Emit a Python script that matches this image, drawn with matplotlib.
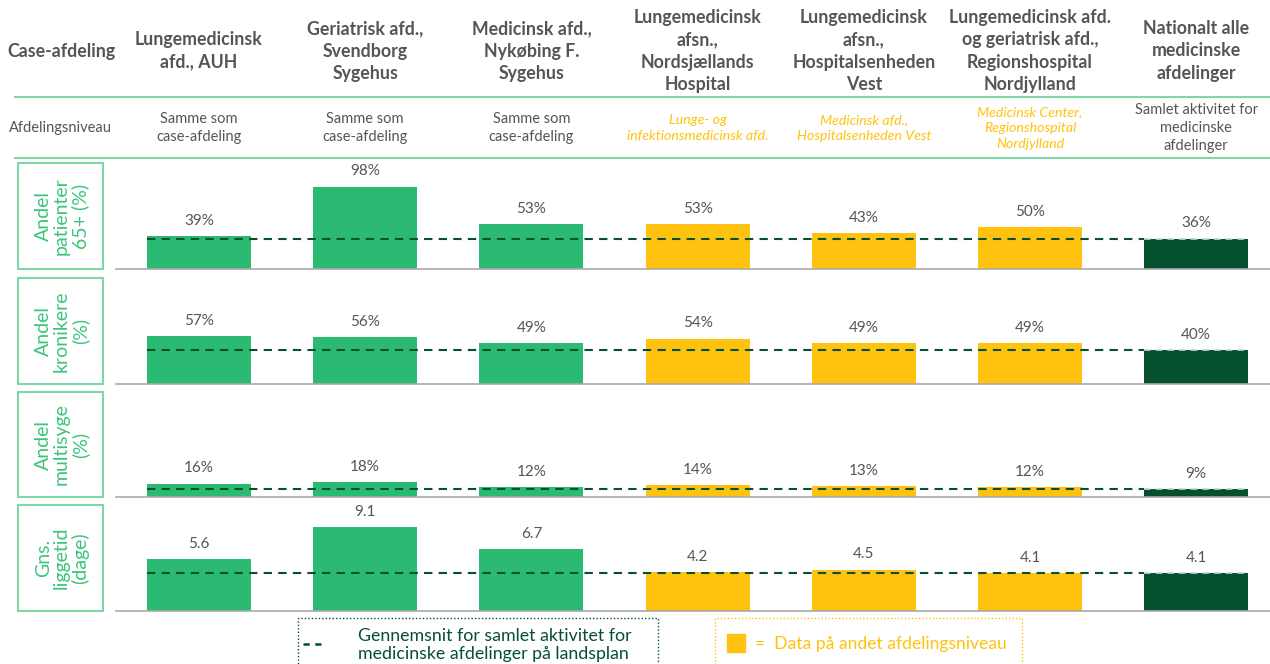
import matplotlib.pyplot as plt
from matplotlib.patches import Rectangle

W, H = 1270, 664

# column headers
departments = [
    "Lungemedicinsk\nafd., AUH",
    "Geriatrisk afd.,\nSvendborg\nSygehus",
    "Medicinsk afd.,\nNykøbing F.\nSygehus",
    "Lungemedicinsk\nafsn.,\nNordsjællands\nHospital",
    "Lungemedicinsk\nafsn.,\nHospitalsenheden\nVest",
    "Lungemedicinsk afd.\nog geriatrisk afd.,\nRegionshospital\nNordjylland",
    "Nationalt alle\nmedicinske\nafdelinger",
]
levels = [
    "Samme som\ncase-afdeling",
    "Samme som\ncase-afdeling",
    "Samme som\ncase-afdeling",
    "Lunge- og\ninfektionsmedicinsk afd.",
    "Medicinsk afd.,\nHospitalsenheden Vest",
    "Medicinsk Center,\nRegionshospital\nNordjylland",
    "Samlet aktivitet for\nmedicinske\nafdelinger",
]
other_level = [False, False, False, True, True, True, False]

row_labels = [
    "Andel\npatienter\n65+ (%)",
    "Andel\nkronikere\n(%)",
    "Andel\nmultisyge\n(%)",
    "Gns.\nliggetid\n(dage)",
]
andel_65 = [39, 98, 53, 53, 43, 50, 36]
andel_kronikere = [57, 56, 49, 54, 49, 49, 40]
andel_multisyge = [16, 18, 12, 14, 13, 12, 9]
liggetid = [5.6, 9.1, 6.7, 4.2, 4.5, 4.1, 4.1]
rows = [andel_65, andel_kronikere, andel_multisyge, liggetid]
national_avg = [36, 40, 9, 4.1]
is_pct = [True, True, True, False]

GREEN = "#2bba72"
YELLOW = "#ffc20e"
DARK = "#05502e"
LINE_GREEN = "#7fd6a6"
LABEL_GREEN = "#3cc47c"
GREY_TXT = "#555555"

plt.rcParams["font.family"] = ["Lato", "DejaVu Sans"]


def fx(x):
    return x / W


def fy(y):
    return 1 - y / H


fig = plt.figure(figsize=(W / 100, H / 100), dpi=100)

# header
col_x = [199 + 166.2 * i for i in range(7)]
fig.text(fx(61), fy(51), "Case-afdeling", ha="center", va="center",
         fontsize=12.8, fontweight="bold", color=GREY_TXT)
for x, name in zip(col_x, departments):
    fig.text(fx(x), fy(51), name, ha="center", va="center", fontsize=12.8,
             fontweight="bold", color=GREY_TXT, linespacing=1.36)

fig.text(fx(60), fy(128), "Afdelingsniveau", ha="center", va="center",
         fontsize=10.5, color=GREY_TXT)
for x, lvl, other in zip(col_x, levels, other_level):
    fig.text(fx(x), fy(128), lvl, ha="center", va="center",
             fontsize=10.2 if other else 10.5,
             color=YELLOW if other else GREY_TXT,
             style="italic" if other else "normal", linespacing=1.36)

for y in (97, 158):
    fig.add_artist(plt.Line2D([fx(15), fx(1270)], [fy(y), fy(y)],
                              color=LINE_GREEN, lw=1.5))

# bar rows
tops = [163, 278, 392, 505]
bases = [269, 384, 497, 611]
colors = [GREEN, GREEN, GREEN, YELLOW, YELLOW, YELLOW, DARK]
step = 166.2
x_left = (116 - 199) / step
x_right = (1270 - 199) / step
bw = 104 / step

for r, (vals, avg, pct) in enumerate(zip(rows, national_avg, is_pct)):
    top, base = tops[r], bases[r]
    ax = fig.add_axes([fx(116), fy(base), fx(1270) - fx(116), (base - top) / H])
    scale = 0.84 if pct else 9.2
    ax.set_xlim(x_left, x_right)
    ax.set_ylim(0, (base - top) / scale)
    xs = list(range(len(vals)))
    ax.bar(xs, vals, width=bw, color=colors, zorder=2)
    ax.hlines(avg, -bw / 2, 6 - bw / 2, colors=DARK, lw=1.5,
              linestyles=(0, (4, 3)), zorder=3)
    # over the dark national bar the dashes show up light
    ax.hlines(avg, 6 - bw / 2, 6 + bw / 2, colors="#c9d6cf", lw=1.2,
              linestyles=(0, (4, 3)), zorder=3)
    for x, v in zip(xs, vals):
        txt = f"{v}%" if pct else f"{v:.1f}"
        ax.annotate(txt, (x, v), xytext=(0, 11), textcoords="offset points",
                    ha="center", va="center", fontsize=11, color=GREY_TXT)
    for s in ("top", "left", "right"):
        ax.spines[s].set_visible(False)
    ax.spines["bottom"].set_color("#aaaaaa")
    ax.spines["bottom"].set_linewidth(1.2)
    ax.set_xticks([])
    ax.set_yticks([])
    ax.patch.set_alpha(0)

    fig.add_artist(Rectangle((fx(18), fy(base)), fx(103) - fx(18), (base - top) / H,
                             transform=fig.transFigure, fill=False,
                             edgecolor=LINE_GREEN, lw=1.5))
    fig.text(fx(62), fy((top + base) / 2), row_labels[r], rotation=90,
             ha="center", va="center", fontsize=14, color=LABEL_GREEN,
             linespacing=1.08)

# legend boxes
fig.add_artist(Rectangle((fx(298), fy(670)), fx(658) - fx(298), (670 - 618) / H,
                         transform=fig.transFigure, fill=False, edgecolor=DARK,
                         lw=1, linestyle=(0, (1, 1.5))))
fig.add_artist(plt.Line2D([fx(303), fx(321)], [fy(644), fy(644)], color=DARK,
                          lw=1.8, linestyle=(0, (2.5, 2.2))))
fig.text(fx(358), fy(645), "Gennemsnit for samlet aktivitet for\nmedicinske afdelinger på landsplan",
         ha="left", va="center", fontsize=12.8, color=DARK, linespacing=1.15)

fig.add_artist(Rectangle((fx(715), fy(670)), fx(1022) - fx(715), (670 - 618) / H,
                         transform=fig.transFigure, fill=False, edgecolor=YELLOW,
                         lw=1, linestyle=(0, (1, 1.5))))
fig.add_artist(Rectangle((fx(727), fy(652)), fx(745) - fx(727), 18 / H,
                         transform=fig.transFigure, color=YELLOW))
fig.text(fx(755), fy(644), "=  Data på andet afdelingsniveau", ha="left",
         va="center", fontsize=12.6, color=YELLOW)

fig.savefig("out.png", dpi=100)
